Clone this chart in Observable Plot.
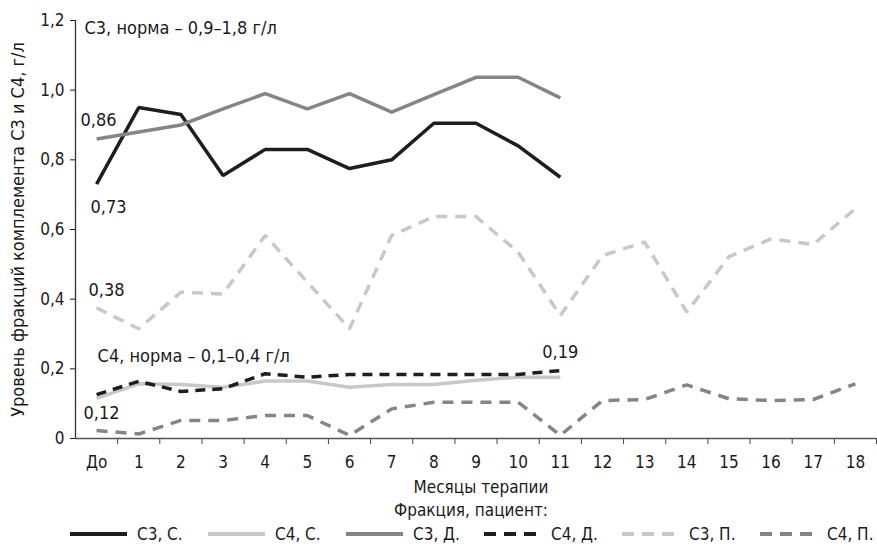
<!DOCTYPE html>
<html><head><meta charset="utf-8">
<script src="https://cdn.jsdelivr.net/npm/d3@7"></script>
<script src="https://cdn.jsdelivr.net/npm/@observablehq/plot@0.6"></script>
<style>
body{margin:0;background:#fff;font-family:"DejaVu Sans Condensed","Liberation Sans Narrow",sans-serif;color:#1a1a1a;}
#wrap{width:877px;}
.sub{text-align:center;font-size:17px;margin-left:65px;height:24px;line-height:26px;white-space:nowrap;}
.legend{display:flex;align-items:center;height:26px;font-size:17px;padding-left:70px;white-space:nowrap;}
.legend span.item{display:flex;align-items:center;width:138px;flex:none;}
.legend svg{margin-right:10px;flex:none;}
</style></head><body><div id="wrap"><div id="chart"></div>
<div class="sub">Фракция, пациент:</div>
<div class="legend" id="legend"></div></div>
<script>
const months = ["До","1","2","3","4","5","6","7","8","9","10","11","12","13","14","15","16","17","18"];
const seriesNames = ["С3, С.","С4, С.","С3, Д.","С4, Д.","С3, П.","С4, П."];
const c3S = [0.73,0.95,0.93,0.755,0.83,0.83,0.775,0.80,0.905,0.905,0.84,0.75];
const c4S = [0.115,0.157,0.155,0.147,0.165,0.165,0.147,0.155,0.155,0.167,0.176,0.176];
const c3D = [0.86,0.88,0.90,0.946,0.99,0.946,0.99,0.937,0.987,1.037,1.037,0.978];
const c4D = [0.126,0.164,0.135,0.143,0.186,0.176,0.184,0.184,0.184,0.184,0.184,0.195];
const c3P = [0.375,0.315,0.42,0.415,0.583,0.449,0.315,0.583,0.637,0.637,0.535,0.353,0.525,0.564,0.363,0.522,0.573,0.557,0.66];
const c4P = [0.023,0.013,0.052,0.052,0.066,0.066,0.009,0.085,0.104,0.104,0.104,0.009,0.109,0.112,0.154,0.114,0.109,0.112,0.157];
const yTicks = [0,0.2,0.4,0.6,0.8,1.0,1.2];
const labels = [
  {text:"0,86", s:2, i:0, dx:2, dy:-19},
  {text:"0,73", s:0, i:0, dx:12, dy:23},
  {text:"0,38", s:4, i:0, dx:10, dy:-18},
  {text:"0,12", s:1, i:0, dx:5, dy:15},
  {text:"0,19", s:3, i:11, dx:0, dy:-18}
];
const values = [c3S,c4S,c3D,c4D,c3P,c4P];
const styles = [
  {stroke:"#1e1e1e", dash:null},
  {stroke:"#c8c8c8", dash:null},
  {stroke:"#858585", dash:null},
  {stroke:"#1e1e1e", dash:"10,7"},
  {stroke:"#c8c8c8", dash:"11,8"},
  {stroke:"#858585", dash:"11,8"}
];
const rows = seriesNames.map((n,k)=>values[k].map((v,i)=>({series:n,i,v})));
const fmt = d => d===0 ? "0" : d.toFixed(1).replace(".",",");
const font = '"DejaVu Sans Condensed","Liberation Sans Narrow",sans-serif';

const marks = [
  Plot.axisY({ticks:yTicks, tickFormat:fmt, tickSize:5, tickPadding:6, fontSize:17, label:null}),
  Plot.axisX({ticks:d3.range(months.length), tickFormat:i=>months[i], tickSize:0, tickPadding:17, fontSize:17, label:null}),
  Plot.axisX({ticks:d3.range(0.5,months.length,1), tickFormat:()=>"", tickSize:6, label:null, stroke:"#444"}),
  Plot.ruleX([-0.5],{stroke:"#333", strokeWidth:1.3}),
  Plot.ruleY([0],{stroke:"#555", strokeWidth:1.3}),
  ...rows.map((r,k)=>Plot.line(r,{x:"i",y:"v",stroke:styles[k].stroke,strokeWidth:3.5,strokeDasharray:styles[k].dash,strokeLinejoin:"miter",strokeLinecap:"butt"})),
  ...labels.map(d=>Plot.text([d],{x:"i", y:dd=>values[dd.s][dd.i], text:"text", dx:d.dx, dy:d.dy, fontSize:18, fill:"#1a1a1a"})),
  Plot.text(["С3, норма – 0,9–1,8 г/л"],{frameAnchor:"top-left", dx:9, dy:1, fontSize:18, textAnchor:"start", lineAnchor:"top"}),
  Plot.text(["С4, норма – 0,1–0,4 г/л"],{x:[0], y:[0.235], textAnchor:"start", dx:1, fontSize:18}),
  Plot.text(["Месяцы терапии"],{frameAnchor:"bottom", dy:49, dx:5, fontSize:17, lineAnchor:"middle"}),
  Plot.text(["Уровень фракций комплемента С3 и С4, г/л"],{frameAnchor:"left", rotate:-90, dx:-57, textAnchor:"middle", fontSize:18})
];

const chart = Plot.plot({
  width:877, height:497,
  marginLeft:75, marginRight:1, marginTop:20, marginBottom:59,
  x:{type:"linear", domain:[-0.5, months.length-0.5]},
  y:{domain:[0,1.2]},
  style:{fontFamily:font, fontSize:"17px", color:"#1a1a1a", background:"#fff", overflow:"visible"},
  marks
});
document.getElementById("chart").appendChild(chart);

const leg = d3.select("#legend");
seriesNames.forEach((n,k)=>{
  const it = leg.append("span").attr("class","item");
  const s = it.append("svg").attr("width",57).attr("height",10);
  s.append("line").attr("x1",0).attr("x2",57).attr("y1",5).attr("y2",5)
    .attr("stroke",styles[k].stroke).attr("stroke-width",4)
    .attr("stroke-dasharray",styles[k].dash ? "12,8" : null);
  it.append("span").text(n);
});
</script></body></html>
